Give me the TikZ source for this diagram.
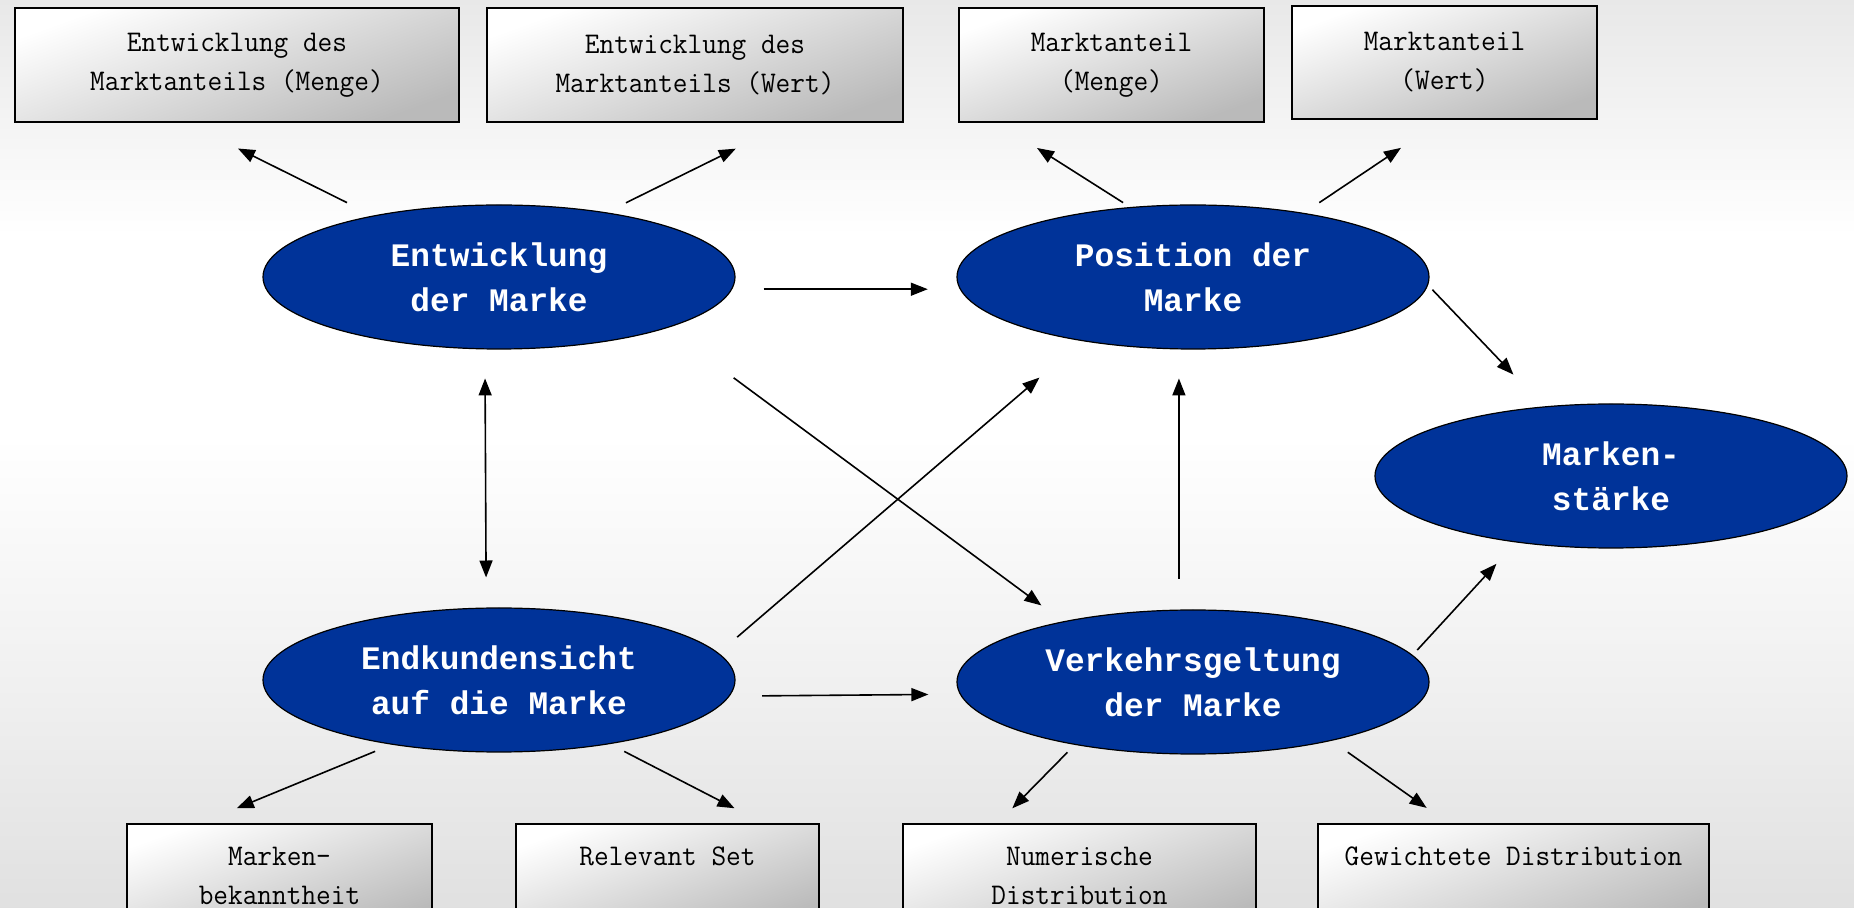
\documentclass[tikz,border=0pt]{standalone}
\usepackage{fontspec}
\usetikzlibrary{arrows.meta,shapes.geometric}
\newfontfamily\ovalfont{Liberation Mono}
\newfontfamily\boxfont[FakeStretch=0.95]{Latin Modern Mono}
\definecolor{markeblau}{HTML}{003399}
\pgfdeclareverticalshading{bgfade}{100bp}{color(0bp)=(black!12); color(25bp)=(black!12); color(37bp)=(black!6); color(51bp)=(white); color(62bp)=(white); color(75bp)=(black!9); color(100bp)=(black!9)}
\tikzstyle{oval}=[ellipse,draw=black,line width=0.6pt,fill=markeblau,text=white,minimum width=236pt,minimum height=72pt,inner sep=0pt,align=center,font=\ovalfont\bfseries\fontsize{16.4}{22.5}\selectfont]
\tikzstyle{box}=[rectangle,draw=black,line width=1pt,top color=white,bottom color=black!27,shading angle=20,minimum height=57pt,align=center,font=\boxfont\fontsize{15}{19.5}\selectfont]
\tikzstyle{lowbox}=[box,minimum height=52pt]
\tikzstyle{link}=[-{Triangle[length=8.5pt,width=6.5pt]},line width=0.8pt]
\tikzstyle{twolink}=[{Triangle[length=8.5pt,width=6.5pt]}-{Triangle[length=8.5pt,width=6.5pt]},line width=0.8pt]

\begin{document}
\begin{tikzpicture}[x=0.5pt,y=-0.5pt]
                  \shade [shading=bgfade,use as bounding box] (0,0) rectangle (1854,908);
                  \clip (0,0) rectangle (1854,908);

                  \node (m1) at (237,65) [box,minimum width=222pt] {Entwicklung des\\Marktanteils (Menge)};
                  \node (m2) at (695,65) [box,minimum width=208pt] {Entwicklung des\\Marktanteils (Wert)};
                  \node (m3) at (1111.5,65) [box,minimum width=152.5pt] {Marktanteil\\(Menge)};
                  \node (m4) at (1444.5,62.5) [box,minimum width=152.5pt,minimum height=56.5pt] {Marktanteil\\(Wert)};

                  \node (e1) at (499,277) [oval] {Entwicklung\\der Marke};
                  \node (e2) at (1193,277) [oval] {Position der\\Marke};
                  \node (e3) at (1611,476) [oval] {Marken-\\stärke};
                  \node (e4) at (499,680) [oval] {Endkundensicht\\auf die Marke};
                  \node (e5) at (1193,682) [oval] {Verkehrsgeltung\\der Marke};

                  \node (n1) at (279.5,876) [lowbox,minimum width=152.5pt] {Marken-\\bekanntheit};
                  \node (n2) at (667.5,876) [lowbox,minimum width=151.5pt,text depth=19.5pt] {Relevant Set};
                  \node (n3) at (1079.5,876) [lowbox,minimum width=176.5pt] {Numerische\\Distribution};
                  \node (n4) at (1513.5,876) [lowbox,minimum width=195.5pt,text depth=19.5pt] {Gewichtete Distribution};

                  \draw [link,shorten <=14.5pt,shorten >=28.7pt] (e1.154) -- (m1.229);
                  \draw [link,shorten <=10.8pt,shorten >=29pt] (e1.31) -- (m2.328);
                  \draw [link,shorten <=4.1pt,shorten >=23.3pt] (e2.132) -- (m3.207);
                  \draw [link,shorten <=9.2pt,shorten >=25pt] (e2.30) -- (m4.268);

                  \draw [link,shorten <=15.7pt,shorten >=16pt] (e1.357) -- (e2.183);
                  \draw [link,shorten <=3.1pt,shorten >=22pt] (e2.358) -- (e3.134);
                  \draw [link,shorten <=41.7pt,shorten >=13.4pt] (e1.343) -- (e5.155);
                  \draw [twolink,shorten <=14.5pt,shorten >=15pt] (e1.259) -- (e4.100);
                  \draw [link,shorten <=12.2pt,shorten >=28pt] (e4.7) -- (e2.210);
                  \draw [link,shorten <=15.5pt,shorten >=14.5pt] (e5.101) -- (e2.259);
                  \draw [link,shorten <=3.4pt,shorten >=14.5pt] (e5.7) -- (e3.215);
                  \draw [link,shorten <=16.2pt,shorten >=15.7pt] (e4.356) -- (e5.183);

                  \draw [link,shorten <=8.8pt,shorten >=19.4pt] (e4.211) -- (n1.146);
                  \draw [link,shorten <=8pt,shorten >=16.1pt] (e4.330) -- (n2.29);
                  \draw [link,shorten <=5.2pt,shorten >=10.3pt] (e5.208) -- (n3.147);
                  \draw [link,shorten <=9.9pt,shorten >=13.1pt] (e5.337) -- (n4.141);
\end{tikzpicture}
\end{document}
